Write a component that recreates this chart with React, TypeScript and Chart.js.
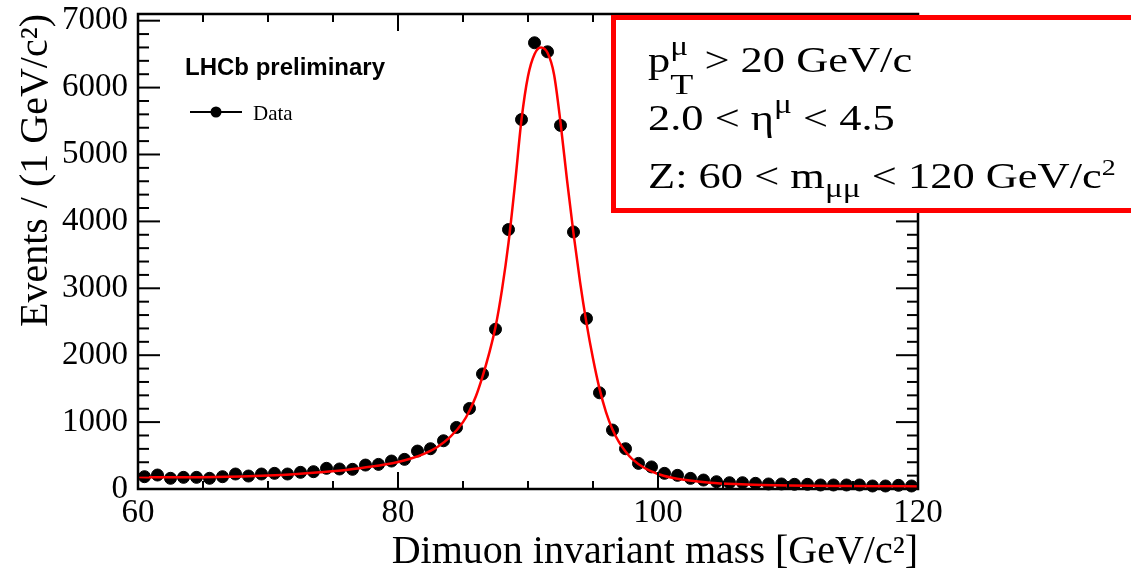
import React, { useEffect, useRef } from "react";
import { Chart, registerables } from "chart.js";

Chart.register(...registerables);

// ---- Data -----------------------------------------------------------
const binCenters = [
  60.5, 61.5, 62.5, 63.5, 64.5, 65.5, 66.5, 67.5, 68.5, 69.5,
  70.5, 71.5, 72.5, 73.5, 74.5, 75.5, 76.5, 77.5, 78.5, 79.5,
  80.5, 81.5, 82.5, 83.5, 84.5, 85.5, 86.5, 87.5, 88.5, 89.5,
  90.5, 91.5, 92.5, 93.5, 94.5, 95.5, 96.5, 97.5, 98.5, 99.5,
  100.5, 101.5, 102.5, 103.5, 104.5, 105.5, 106.5, 107.5, 108.5, 109.5,
  110.5, 111.5, 112.5, 113.5, 114.5, 115.5, 116.5, 117.5, 118.5, 119.5,
];
const eventCounts = [
  184, 209, 160, 174, 174, 160, 184, 224, 194, 224,
  234, 224, 249, 259, 309, 299, 294, 358, 368, 418,
  443, 567, 602, 721, 920, 1204, 1720, 2388, 3878, 5522,
  6670, 6535, 5435, 3842, 2548, 1438, 881, 602, 383, 330,
  234, 204, 159, 134, 109, 94, 94, 85, 75, 75,
  70, 70, 60, 60, 60, 60, 45, 45, 55, 45,
];
const fitMass = [
  60, 62, 64, 66, 68, 70, 72, 74, 76, 78,
  80, 81, 82, 83, 84, 85,
  85.5, 86, 86.5, 87, 87.5, 88, 88.5, 89, 89.5, 90,
  90.5, 91, 91.5, 92, 92.5, 93, 93.5, 94, 94.5, 95,
  95.5, 96, 96.5, 97, 97.5, 98,
  99, 100, 101, 102,
  104, 106, 108, 110,
  114, 118, 120,
];
const fitValue = [
  178, 174, 174, 178, 188, 202, 222, 250, 285, 335,
  405, 455, 525, 625, 775, 1000,
  1170, 1390, 1680, 2020, 2420, 2980, 3680, 4560, 5520, 6170,
  6500, 6600, 6520, 6200, 5480, 4620, 3820, 3100, 2480, 1950,
  1500, 1150, 890, 700, 560, 450,
  310, 225, 172, 137,
  95, 73, 60, 52,
  45, 41, 39,
];
const xTickLabels = [60, 80, 100, 120];
const yTickLabels = [0, 1000, 2000, 3000, 4000, 5000, 6000, 7000];
const X_MIN = 60;
const X_MAX = 120;
const Y_MIN = 0;
const Y_MAX = 7100;

const SERIF = "'Liberation Serif', 'Times New Roman', serif";
const SANS = "'Liberation Sans', Arial, sans-serif";

type Run = { t: string; s: number; dy: number; na?: boolean };

const boxLines: Run[][] = [
  [
    { t: "p", s: 1, dy: 0 },
    { t: "μ", s: 0.75, dy: -0.5, na: true },
    { t: "T", s: 0.85, dy: 0.62 },
    { t: " > 20 GeV/c", s: 1, dy: 0 },
  ],
  [
    { t: "2.0 < η", s: 1, dy: 0 },
    { t: "μ", s: 0.75, dy: -0.5 },
    { t: " < 4.5", s: 1, dy: 0 },
  ],
  [
    { t: "Z: 60 < m", s: 1, dy: 0 },
    { t: "μμ", s: 0.75, dy: 0.26 },
    { t: " < 120 GeV/c", s: 1, dy: 0 },
    { t: "2", s: 0.63, dy: -0.36 },
  ],
];

function drawRuns(ctx: CanvasRenderingContext2D, runs: Run[], x: number, y: number, size: number, sx: number) {
  ctx.save();
  ctx.translate(x, y);
  ctx.scale(sx, 1);
  let cx = 0;
  for (const r of runs) {
    ctx.font = `${size * r.s}px ${SERIF}`;
    ctx.fillText(r.t, cx, r.dy * size);
    if (!r.na) cx += ctx.measureText(r.t).width;
  }
  ctx.restore();
}

const decorPlugin = {
  id: "decor",
  afterDraw(chart: any) {
    const { ctx, chartArea: a, scales } = chart;
    const xs = scales.x;
    const ys = scales.y;
    ctx.save();
    ctx.strokeStyle = "#000";
    ctx.fillStyle = "#000";
    const line = (x1: number, y1: number, x2: number, y2: number) => {
      ctx.beginPath();
      ctx.moveTo(x1, y1);
      ctx.lineTo(x2, y2);
      ctx.stroke();
    };
    // ticks (inward, mirrored)
    ctx.lineWidth = 2;
    for (let v = X_MIN; v <= X_MAX; v += 5) {
      const px = xs.getPixelForValue(v);
      const len = xTickLabels.includes(v) ? 17 : 8;
      line(px, a.bottom, px, a.bottom - len);
      line(px, a.top, px, a.top + len);
    }
    for (let v = Y_MIN; v <= 7000; v += 200) {
      const py = ys.getPixelForValue(v);
      const len = v % 1000 === 0 ? 22 : 11;
      line(a.left, py, a.left + len, py);
      line(a.right, py, a.right - len, py);
    }
    // frame
    ctx.lineWidth = 2.5;
    ctx.strokeRect(a.left, a.top, a.right - a.left, a.bottom - a.top);

    // LHCb label
    ctx.font = `bold 24px ${SANS}`;
    ctx.textBaseline = "alphabetic";
    ctx.textAlign = "left";
    ctx.fillText("LHCb preliminary", 185, 75);
    // Data legend
    ctx.lineWidth = 2;
    line(190, 112, 242, 112);
    ctx.beginPath();
    ctx.arc(216, 112, 5.5, 0, Math.PI * 2);
    ctx.fill();
    ctx.font = `21px ${SERIF}`;
    ctx.fillText("Data", 253, 120);

    // Red box
    ctx.fillStyle = "#fff";
    ctx.fillRect(613, 17, 600, 194);
    ctx.strokeStyle = "#ff0000";
    ctx.lineWidth = 5;
    ctx.strokeRect(613.5, 17.5, 600, 193);
    ctx.fillStyle = "#000";
    const baselines = [72, 130, 188];
    boxLines.forEach((runs, i) => drawRuns(ctx, runs, 648, baselines[i], 35, 1.27));
    ctx.restore();
  },
};

export default function App() {
  const ref = useRef<HTMLCanvasElement | null>(null);
  useEffect(() => {
    if (!ref.current) return;
    const chart = new Chart(ref.current, {
      type: "scatter",
      data: {
        datasets: [
          {
            label: "Data",
            data: binCenters.map((x, i) => ({ x, y: eventCounts[i] })),
            backgroundColor: "#000",
            borderColor: "#000",
            pointRadius: 6,
            pointHoverRadius: 6,
            showLine: false,
            clip: false as any,
            order: 2,
          },
          {
            label: "Fit",
            type: "line" as any,
            data: fitMass.map((x, i) => ({ x, y: fitValue[i] })),
            borderColor: "#ff0000",
            backgroundColor: "#ff0000",
            borderWidth: 2.5,
            pointRadius: 0,
            showLine: true,
            fill: false,
            cubicInterpolationMode: "monotone",
            order: 1,
          } as any,
        ],
      },
      options: {
        animation: false,
        responsive: false,
        devicePixelRatio: 1,
        events: [],
        layout: { padding: { left: 0, top: 14, right: 213, bottom: 0 } },
        plugins: { legend: { display: false }, tooltip: { enabled: false } },
        scales: {
          x: {
            type: "linear",
            min: X_MIN,
            max: X_MAX,
            grid: { display: false, drawTicks: false },
            border: { display: false },
            afterBuildTicks: (s: any) => {
              s.ticks = xTickLabels.map((v) => ({ value: v }));
            },
            afterFit: (s: any) => {
              s.height = 87;
              s.paddingLeft = 0;
              s.paddingRight = 0;
            },
            ticks: {
              color: "#000",
              padding: 5,
              maxRotation: 0,
              autoSkip: false,
              font: { family: SERIF, size: 33 },
              callback: (v: any) => String(v),
            },
            title: {
              display: true,
              text: "Dimuon invariant mass [GeV/c²]",
              align: "end",
              color: "#000",
              font: { family: SERIF, size: 40, lineHeight: 1.2 },
              padding: { top: 0, bottom: 0 },
            },
          },
          y: {
            type: "linear",
            min: Y_MIN,
            max: Y_MAX,
            grid: { display: false, drawTicks: false },
            border: { display: false },
            afterBuildTicks: (s: any) => {
              s.ticks = yTickLabels.map((v) => ({ value: v }));
            },
            afterFit: (s: any) => {
              s.width = 138;
              s.paddingTop = 0;
              s.paddingBottom = 0;
            },
            ticks: {
              color: "#000",
              padding: 10,
              autoSkip: false,
              font: { family: SERIF, size: 33 },
              callback: (v: any) => String(v),
            },
            title: {
              display: true,
              text: "Events / (1 GeV/c²)",
              align: "end",
              color: "#000",
              font: { family: SERIF, size: 40, lineHeight: 1.2 },
              padding: { top: 12, bottom: 0 },
            },
          },
        },
      },
      plugins: [decorPlugin],
    });
    return () => chart.destroy();
  }, []);
  return (
    <div style={{ position: "absolute", left: 0, top: 0, width: 1131, height: 576, background: "#fff" }}>
      <canvas ref={ref} width={1131} height={576} style={{ display: "block" }} />
    </div>
  );
}
